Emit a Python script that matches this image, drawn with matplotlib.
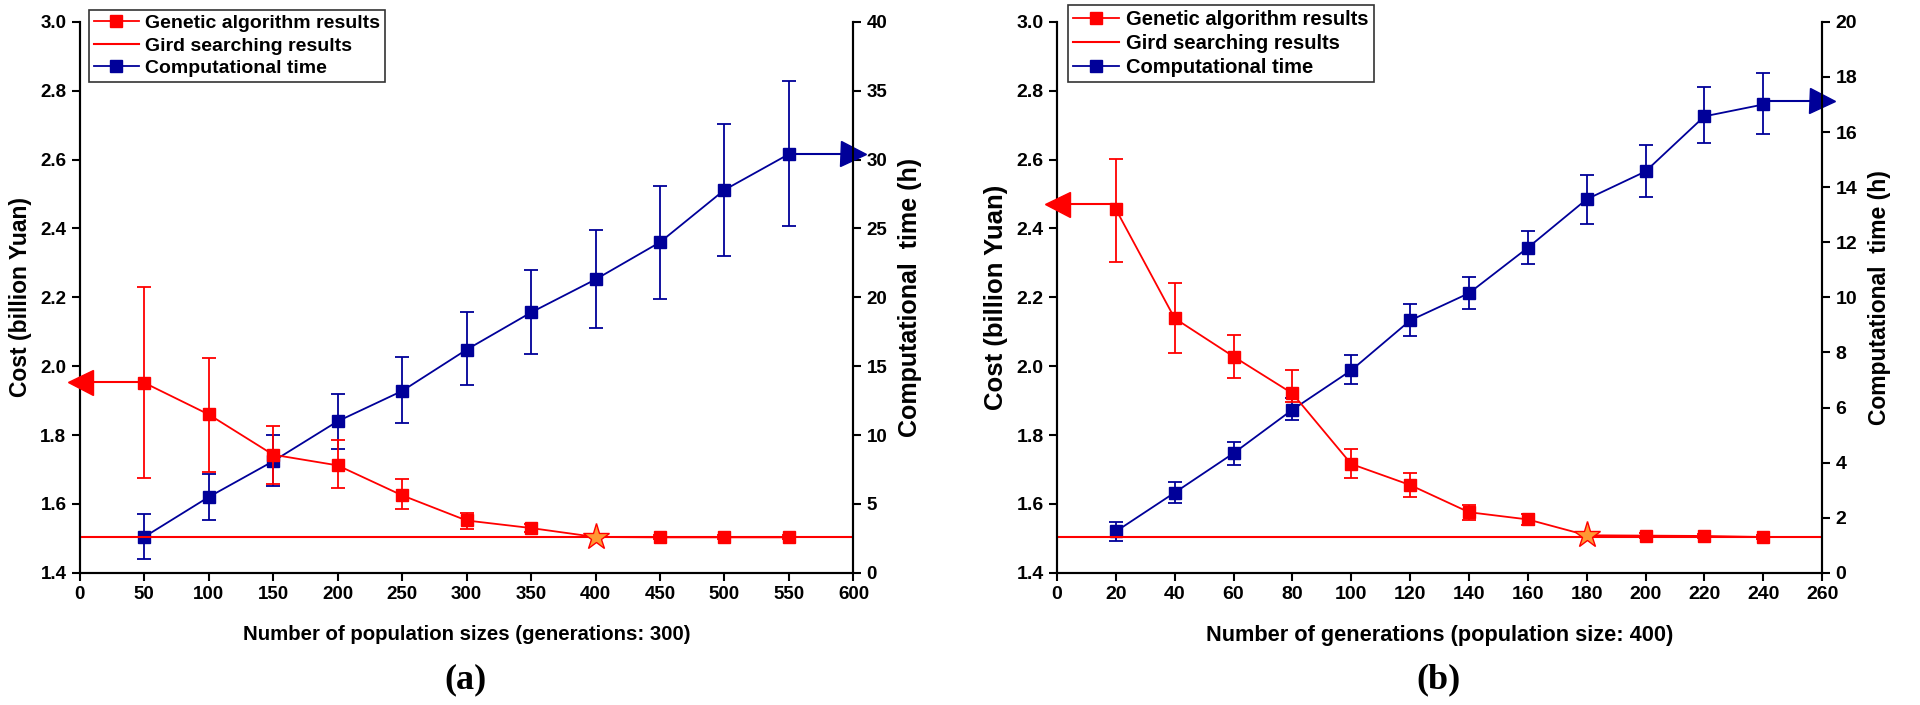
import matplotlib.pyplot as plt
import numpy as np

plt.rcParams['font.family'] = ['Liberation Sans', 'DejaVu Sans']
plt.rcParams['font.weight'] = 'bold'

# panel (a): population sizes, generations 300
pop = [50, 100, 150, 200, 250, 300, 350, 400, 450, 500, 550]
cost_a = [1.952, 1.860, 1.743, 1.712, 1.625, 1.552, 1.530, 1.504, 1.503, 1.503, 1.503]
cost_a_lo = [1.676, 1.694, 1.659, 1.645, 1.584, 1.526, 1.518, 1.504, 1.497, 1.497, 1.497]
cost_a_hi = [2.229, 2.024, 1.827, 1.785, 1.672, 1.574, 1.542, 1.504, 1.510, 1.510, 1.510]
time_a = [2.6, 5.5, 8.1, 11.0, 13.2, 16.2, 18.9, 21.3, 24.0, 27.8, 30.4]
time_a_lo = [1.0, 3.85, 6.3, 9.0, 10.9, 13.6, 15.9, 17.8, 19.85, 23.0, 25.2]
time_a_hi = [4.3, 7.2, 10.0, 13.0, 15.7, 18.9, 22.0, 24.9, 28.1, 32.6, 35.7]
grid_a = 1.503
arrow_a_cost = 1.953
arrow_a_time = 30.4

# panel (b): generations, population size 400
gen = [20, 40, 60, 80, 100, 120, 140, 160, 180, 200, 220, 240]
cost_b = [2.456, 2.139, 2.028, 1.921, 1.716, 1.655, 1.576, 1.555, 1.509, 1.508, 1.507, 1.504]
cost_b_lo = [2.303, 2.037, 1.965, 1.896, 1.674, 1.620, 1.554, 1.540, 1.509, 1.500, 1.500, 1.498]
cost_b_hi = [2.603, 2.242, 2.092, 1.988, 1.761, 1.691, 1.597, 1.570, 1.509, 1.516, 1.514, 1.510]
time_b = [1.5, 2.91, 4.34, 5.92, 7.35, 9.16, 10.15, 11.8, 13.56, 14.57, 16.57, 17.0]
time_b_lo = [1.15, 2.55, 3.92, 5.54, 6.84, 8.6, 9.59, 11.22, 12.65, 13.66, 15.6, 15.92]
time_b_hi = [1.84, 3.28, 4.76, 6.33, 7.91, 9.77, 10.73, 12.41, 14.44, 15.52, 17.63, 18.14]
grid_b = 1.505
arrow_b_cost = 2.47
arrow_b_time = 17.13

RED = '#ff0000'
BLUE = '#000099'


def panel(ax, x, cost, clo, chi, t, tlo, thi, grid, acost, atime, star_i,
          xmax, xstep, tmax, tstep, xlabel, tag, tag_x, fs):
    ax2 = ax.twinx()
    ax.set_zorder(ax2.get_zorder() + 1)
    ax.patch.set_visible(False)

    x = np.array(x)
    cost = np.array(cost)
    t = np.array(t)

    # grid searching result
    ax.axhline(grid, color=RED, lw=1.5, zorder=2)
    # GA results
    err = [cost - np.array(clo), np.array(chi) - cost]
    ax.errorbar(x, cost, yerr=err, color=RED, lw=1.3, capsize=5, capthick=1.3,
                marker='none', zorder=3)
    mask = np.arange(len(x)) != star_i
    ax.plot(x[mask], cost[mask], 's', color=RED, ms=9, zorder=4)
    ax.plot(x[star_i], cost[star_i], '*', ms=20, mfc='#ff9933', mec=RED,
            mew=1.0, zorder=5)
    ax.plot([0, x[0]], [acost, acost], color=RED, lw=1.5, zorder=3)
    ax.plot([0], [acost], '<', color=RED, ms=18, clip_on=False, zorder=6)

    # computational time
    terr = [t - np.array(tlo), np.array(thi) - t]
    ax2.errorbar(x, t, yerr=terr, color=BLUE, lw=1.3, capsize=5, capthick=1.3,
                 marker='s', ms=9, zorder=3)
    ax2.plot([x[-1], xmax], [atime, atime], color=BLUE, lw=1.5)
    ax2.plot([xmax], [atime], '>', color=BLUE, ms=18, clip_on=False, zorder=6)

    ax.set_xlim(0, xmax)
    ax.set_ylim(1.4, 3.0)
    ax2.set_ylim(0, tmax)
    ax.set_xticks(np.arange(0, xmax + 1, xstep))
    ax.set_yticks(np.arange(1.4, 3.01, 0.2))
    ax.set_yticklabels([f'{v:.1f}' for v in np.arange(1.4, 3.01, 0.2)])
    ax2.set_yticks(np.arange(0, tmax + 1, tstep))

    for a in (ax, ax2):
        a.spines['top'].set_visible(False)
        for s in a.spines.values():
            s.set_linewidth(1.5)
        a.tick_params(direction='out', width=1.5, length=6, labelsize=fs['tick'])
        for lab in a.get_xticklabels() + a.get_yticklabels():
            lab.set_fontweight('bold')

    ax.set_xlabel(xlabel, fontsize=fs['xlab'], fontweight='bold', labelpad=16)
    ax.set_ylabel('Cost (billion Yuan)', fontsize=fs['ylab'], fontweight='bold',
                  labelpad=6)
    ax2.set_ylabel('Computational  time (h)', fontsize=fs['ylab2'],
                   fontweight='bold', labelpad=8)

    h1 = plt.Line2D([], [], color=RED, marker='s', ms=9, lw=1.3)
    h2 = plt.Line2D([], [], color=RED, lw=1.5)
    h3 = plt.Line2D([], [], color=BLUE, marker='s', ms=9, lw=1.3)
    leg = ax.legend([h1, h2, h3],
                    ['Genetic algorithm results', 'Gird searching results',
                     'Computational time'],
                    loc='upper left', bbox_to_anchor=fs['leg_anchor'],
                    borderaxespad=0, fancybox=False, edgecolor='#333333',
                    framealpha=1, prop={'weight': 'bold', 'size': fs['leg']},
                    handlelength=2.3, borderpad=0.25, labelspacing=0.25,
                    handletextpad=0.35)
    leg.get_frame().set_linewidth(1.2)

    fig.text(tag_x, 0.036, tag, ha='center', va='center', fontsize=26,
             fontweight='bold', family=['Liberation Serif', 'DejaVu Serif'])


fig = plt.figure(figsize=(19.2, 7.05), dpi=100)
ax_a = fig.add_axes([0.0415, 0.1875, 0.403, 0.7815])
ax_b = fig.add_axes([0.5505, 0.1875, 0.3985, 0.7815])

fs_a = {'tick': 13.5, 'xlab': 14.7, 'ylab': 16.5, 'ylab2': 18,
        'leg': 14, 'leg_anchor': (0.012, 1.022)}
fs_b = {'tick': 14, 'xlab': 15.7, 'ylab': 18.5, 'ylab2': 16.5,
        'leg': 14.5, 'leg_anchor': (0.014, 1.031)}

panel(ax_a, pop, cost_a, cost_a_lo, cost_a_hi, time_a, time_a_lo, time_a_hi,
      grid_a, arrow_a_cost, arrow_a_time, 7, 600, 50, 40, 5,
      'Number of population sizes (generations: 300)', '(a)', 0.2423, fs_a)
panel(ax_b, gen, cost_b, cost_b_lo, cost_b_hi, time_b, time_b_lo, time_b_hi,
      grid_b, arrow_b_cost, arrow_b_time, 8, 260, 20, 20, 2,
      'Number of generations (population size: 400)', '(b)', 0.749, fs_b)

fig.savefig('out.png', dpi=100)
